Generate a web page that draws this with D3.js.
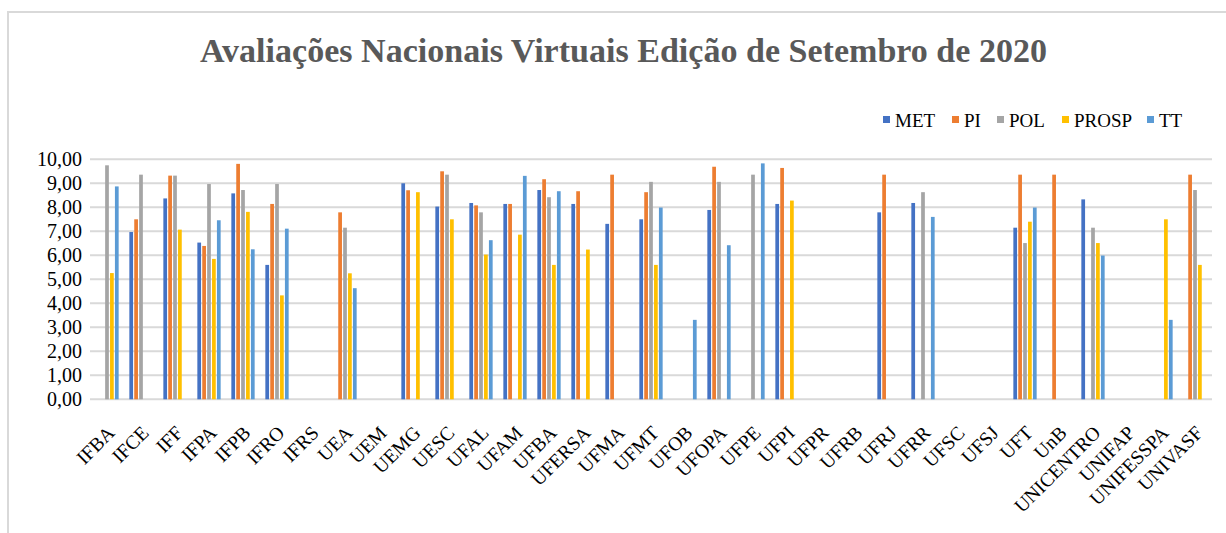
<!DOCTYPE html>
<html><head><meta charset="utf-8">
<script src="https://cdn.jsdelivr.net/npm/d3@7"></script>
<style>body{margin:0;background:#fff;}svg{display:block;} .serif{font-family:"Liberation Serif","Times New Roman","DejaVu Serif",serif;}</style>
</head><body>
<svg id="c" width="1226" height="533"></svg>
<script>
const categories = ["IFBA","IFCE","IFF","IFPA","IFPB","IFRO","IFRS","UEA","UEM","UEMG","UESC","UFAL","UFAM","UFBA","UFERSA","UFMA","UFMT","UFOB","UFOPA","UFPE","UFPI","UFPR","UFRB","UFRJ","UFRR","UFSC","UFSJ","UFT","UnB","UNICENTRO","UNIFAP","UNIFESSPA","UNIVASF"];
const seriesNames = ["MET","PI","POL","PROSP","TT"];
const MET   = [null,6.97,8.37,6.53,8.58,5.60,null,null,null,9.00,8.03,8.18,8.14,8.72,8.14,7.31,7.50,null,7.89,null,8.14,null,null,7.79,8.18,null,null,7.15,null,8.33,null,null,null];
const PI    = [null,7.50,9.32,6.39,9.81,8.14,null,7.79,null,8.71,9.50,8.08,8.14,9.17,8.67,9.36,8.63,null,9.69,null,9.64,null,null,9.36,null,null,null,9.36,9.36,null,null,null,9.36];
const POL   = [9.75,9.36,9.32,8.97,8.72,8.97,null,7.15,null,null,9.36,7.79,null,8.42,null,null,9.06,null,9.06,9.36,null,null,null,null,8.63,null,null,6.51,null,7.15,null,null,8.72];
const PROSP = [5.26,null,7.07,5.85,7.81,4.33,null,5.25,null,8.63,7.50,6.03,6.86,5.60,6.24,null,5.60,null,null,null,8.28,null,null,null,null,null,null,7.40,null,6.51,null,7.50,5.60];
const TT    = [8.87,null,null,7.46,6.25,7.11,null,4.63,null,null,null,6.63,9.31,8.67,null,null,7.99,3.31,6.42,9.83,null,null,null,null,7.60,null,null,7.99,null,5.99,null,3.31,null];
const yTicks = [0,1,2,3,4,5,6,7,8,9,10];
const colors = ["#4472C4","#ED7D31","#A5A5A5","#FFC000","#5B9BD5"];
const title = "Avaliações Nacionais Virtuais Edição de Setembro de 2020";

const seriesData = [MET, PI, POL, PROSP, TT];
const svg = d3.select("#c");

svg.append("rect").attr("x",8).attr("y",12).attr("width",1240).attr("height",560)
  .attr("fill","none").attr("stroke","#d9d9d9").attr("stroke-width",2);

const plot = {left:90, right:1212, top:159.3, bottom:399.3};
const x0 = d3.scaleBand().domain(categories).range([plot.left, plot.right]).padding(0);
const x1 = d3.scaleBand().domain(seriesNames)
  .range([x0.bandwidth()*0.14, x0.bandwidth()*0.86]).paddingInner(0.24).paddingOuter(0.12);
const y = d3.scaleLinear().domain([0,10]).range([plot.bottom, plot.top]);
const color = d3.scaleOrdinal().domain(seriesNames).range(colors);

svg.append("text").attr("class","serif").attr("text-anchor","middle")
  .attr("transform","translate(623.5,62) scale(1,1.12)")
  .style("font-weight","bold").style("font-size","31px")
  .attr("fill","#595959").attr("textLength",847).attr("lengthAdjust","spacingAndGlyphs")
  .text(title);

svg.append("g").selectAll("line").data(yTicks).join("line")
  .attr("x1",plot.left).attr("x2",plot.right)
  .attr("y1",d=>y(d)).attr("y2",d=>y(d))
  .attr("stroke","#d9d9d9").attr("stroke-width",2);

const yAxis = d3.axisLeft(y).tickValues(yTicks).tickSize(0).tickPadding(8)
  .tickFormat(d=>d3.format(".2f")(d).replace(".",","));
const gy = svg.append("g").attr("transform",`translate(${plot.left},0)`).call(yAxis)
  .attr("font-family",null).attr("font-size",null);
gy.select(".domain").remove();
gy.selectAll("text").attr("class","serif").style("font-size","20px").attr("fill","#000");

const rows = [];
categories.forEach((c,i)=>seriesNames.forEach((s,j)=>{
  const v = seriesData[j][i];
  if (v!=null) rows.push({c,s,v});
}));
svg.append("g").selectAll("rect").data(rows).join("rect")
  .attr("x",d=>x0(d.c)+x1(d.s))
  .attr("width",x1.bandwidth())
  .attr("y",d=>y(d.v))
  .attr("height",d=>y(0)-y(d.v))
  .attr("fill",d=>color(d.s));

const xAxis = d3.axisBottom(x0).tickSize(0).tickPadding(0);
const gx = svg.append("g").attr("transform",`translate(0,${plot.bottom})`).call(xAxis)
  .attr("font-family",null).attr("font-size",null);
gx.select(".domain").remove();
gx.selectAll(".tick text").attr("class","serif")
  .style("font-size","19.5px").attr("fill","#000")
  .attr("text-anchor","end").attr("dy","0.35em")
  .attr("transform","translate(4,30) rotate(-45)");

const legendX = [883, 952, 997, 1062, 1147];
const lg = svg.append("g");
seriesNames.forEach((s,i)=>{
  lg.append("rect").attr("x",legendX[i]).attr("y",116).attr("width",7).attr("height",7).attr("fill",color(s));
  lg.append("text").attr("class","serif").attr("x",legendX[i]+12).attr("y",126.5)
    .style("font-size","19px").attr("fill","#000").text(s);
});
</script>
</body></html>
